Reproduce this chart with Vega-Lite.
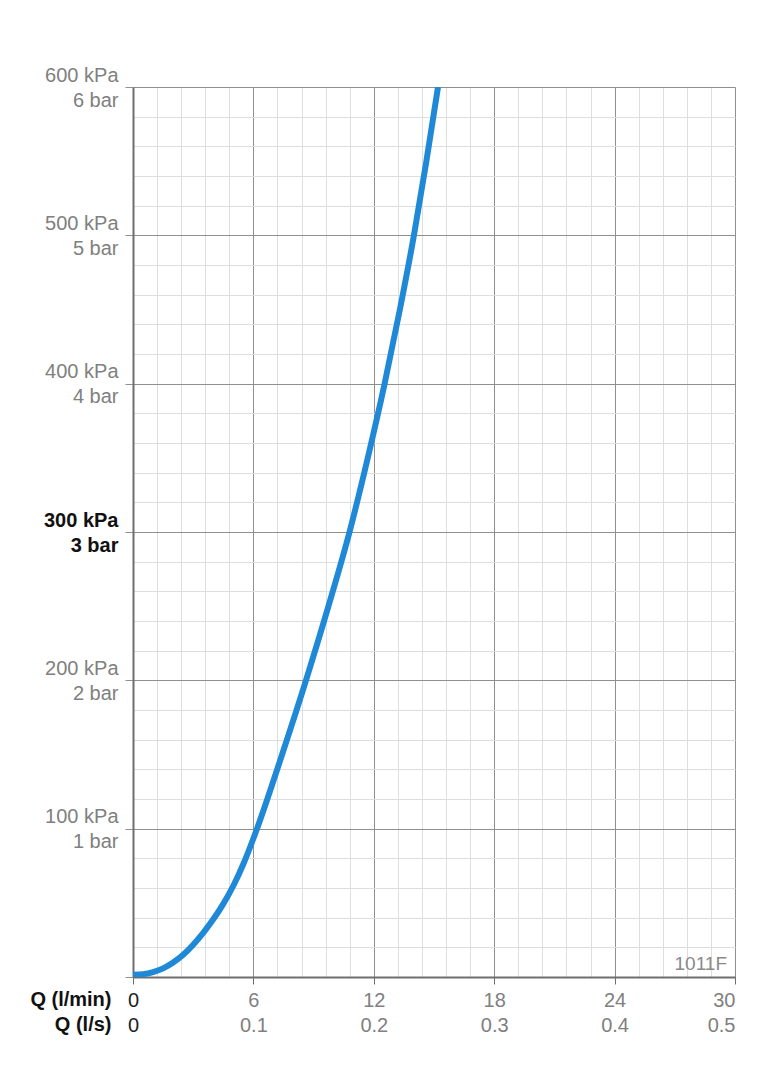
{
  "$schema": "https://vega.github.io/schema/vega-lite/v6.json",
  "width": 602,
  "height": 890,
  "autosize": {"type": "none"},
  "padding": {"left": 133, "top": 87, "right": 35, "bottom": 112},
  "background": "white",
  "config": {
    "view": {"stroke": null},
    "font": "Liberation Sans",
    "axis": {"labelFont": "Liberation Sans", "titleFont": "Liberation Sans"}
  },
  "datasets": {
    "curve": [
      {"Q": 0, "p": 1.5},
      {"Q": 0.5, "p": 1.9},
      {"Q": 1.0, "p": 3.3},
      {"Q": 1.5, "p": 5.8},
      {"Q": 2.0, "p": 9.8},
      {"Q": 2.5, "p": 15},
      {"Q": 3.0, "p": 21.8},
      {"Q": 3.5, "p": 29.8},
      {"Q": 4.0, "p": 38.9},
      {"Q": 4.5, "p": 49.3},
      {"Q": 5.0, "p": 61.5},
      {"Q": 5.5, "p": 76.2},
      {"Q": 6.18, "p": 100},
      {"Q": 7.43, "p": 150},
      {"Q": 8.62, "p": 200},
      {"Q": 9.74, "p": 250},
      {"Q": 10.79, "p": 300},
      {"Q": 11.7, "p": 350},
      {"Q": 12.54, "p": 400},
      {"Q": 13.3, "p": 450},
      {"Q": 14.0, "p": 500},
      {"Q": 14.62, "p": 550},
      {"Q": 15.2, "p": 600}
    ],
    "code": [{"Q": 30, "p": 0, "label": "1011F"}]
  },
  "layer": [
    {
      "data": {"name": "curve"},
      "mark": {"type": "line", "color": "#1f89d8", "strokeWidth": 6, "interpolate": "monotone", "strokeCap": "butt", "clip": true},
      "encoding": {
        "x": {
          "field": "Q", "type": "quantitative",
          "scale": {"domain": [0, 30], "nice": false, "zero": true},
          "axis": {
            "orient": "bottom",
            "values": [0, 6, 12, 18, 24, 30],
            "labelExpr": "[datum.label, datum.value == 0 ? '0' : format(datum.value / 60, '.1f')]",
            "labelFlush": false,
            "labelAlign": {"condition": {"test": "datum.value == 30", "value": "right"}, "value": "center"},
            "labelFontSize": 20,
            "labelLineHeight": 25,
            "labelPadding": 6,
            "labelColor": {"condition": {"test": "datum.value == 0", "value": "#222222"}, "value": "#808080"},
            "grid": true,
            "gridColor": "#8f8f8f",
            "gridWidth": 1,
            "domain": true,
            "domainColor": "#6e6e6e",
            "domainWidth": 2,
            "ticks": true,
            "tickColor": "#6e6e6e",
            "tickSize": 7,
            "tickWidth": 1,
            "title": ["Q (l/min)", "Q (l/s)"],
            "titleFontSize": 20,
            "titleFontWeight": "bold",
            "titleColor": "#111111",
            "titleLineHeight": 25,
            "titleAlign": "right",
            "titleAnchor": "start",
            "titleBaseline": "middle",
            "titleX": -22,
            "titleY": 22
          }
        },
        "y": {
          "field": "p", "type": "quantitative",
          "scale": {"domain": [0, 600], "nice": false},
          "axis": {
            "orient": "left",
            "values": [0, 100, 200, 300, 400, 500, 600],
            "labelExpr": "datum.value == 0 ? '' : [datum.value + ' kPa', (datum.value / 100) + ' bar']",
            "labelFontSize": 20,
            "labelLineHeight": 25,
            "labelPadding": 7,
            "labelOffset": -12,
            "labelBaseline": "middle",
            "labelColor": {"condition": {"test": "datum.value == 300", "value": "#111111"}, "value": "#808080"},
            "labelFontWeight": {"condition": {"test": "datum.value == 300", "value": "bold"}, "value": "normal"},
            "grid": true,
            "gridColor": "#8f8f8f",
            "gridWidth": 1,
            "domain": true,
            "domainColor": "#6e6e6e",
            "domainWidth": 2,
            "ticks": true,
            "tickColor": "#8f8f8f",
            "tickSize": 8,
            "tickWidth": 1,
            "title": null
          }
        }
      }
    },
    {
      "data": {"name": "code"},
      "mark": {"type": "text", "align": "right", "baseline": "bottom", "dx": -8, "dy": -3, "fontSize": 19, "color": "#8a8a8a", "font": "Liberation Sans"},
      "encoding": {
        "text": {"field": "label"},
        "x": {
          "field": "Q", "type": "quantitative",
          "axis": {
            "orient": "top",
            "values": [1.2, 2.4, 3.6, 4.8, 7.2, 8.4, 9.6, 10.8, 13.2, 14.4, 15.6, 16.8, 19.2, 20.4, 21.6, 22.8, 25.2, 26.4, 27.6, 28.8],
            "grid": true, "gridColor": "#dedede", "gridWidth": 1,
            "labels": false, "ticks": false, "domain": false, "title": null
          }
        },
        "y": {
          "field": "p", "type": "quantitative",
          "axis": {
            "orient": "right",
            "values": [20, 40, 60, 80, 120, 140, 160, 180, 220, 240, 260, 280, 320, 340, 360, 380, 420, 440, 460, 480, 520, 540, 560, 580],
            "grid": true, "gridColor": "#dedede", "gridWidth": 1,
            "labels": false, "ticks": false, "domain": false, "title": null
          }
        }
      }
    }
  ],
  "resolve": {"axis": {"x": "independent", "y": "independent"}}
}
